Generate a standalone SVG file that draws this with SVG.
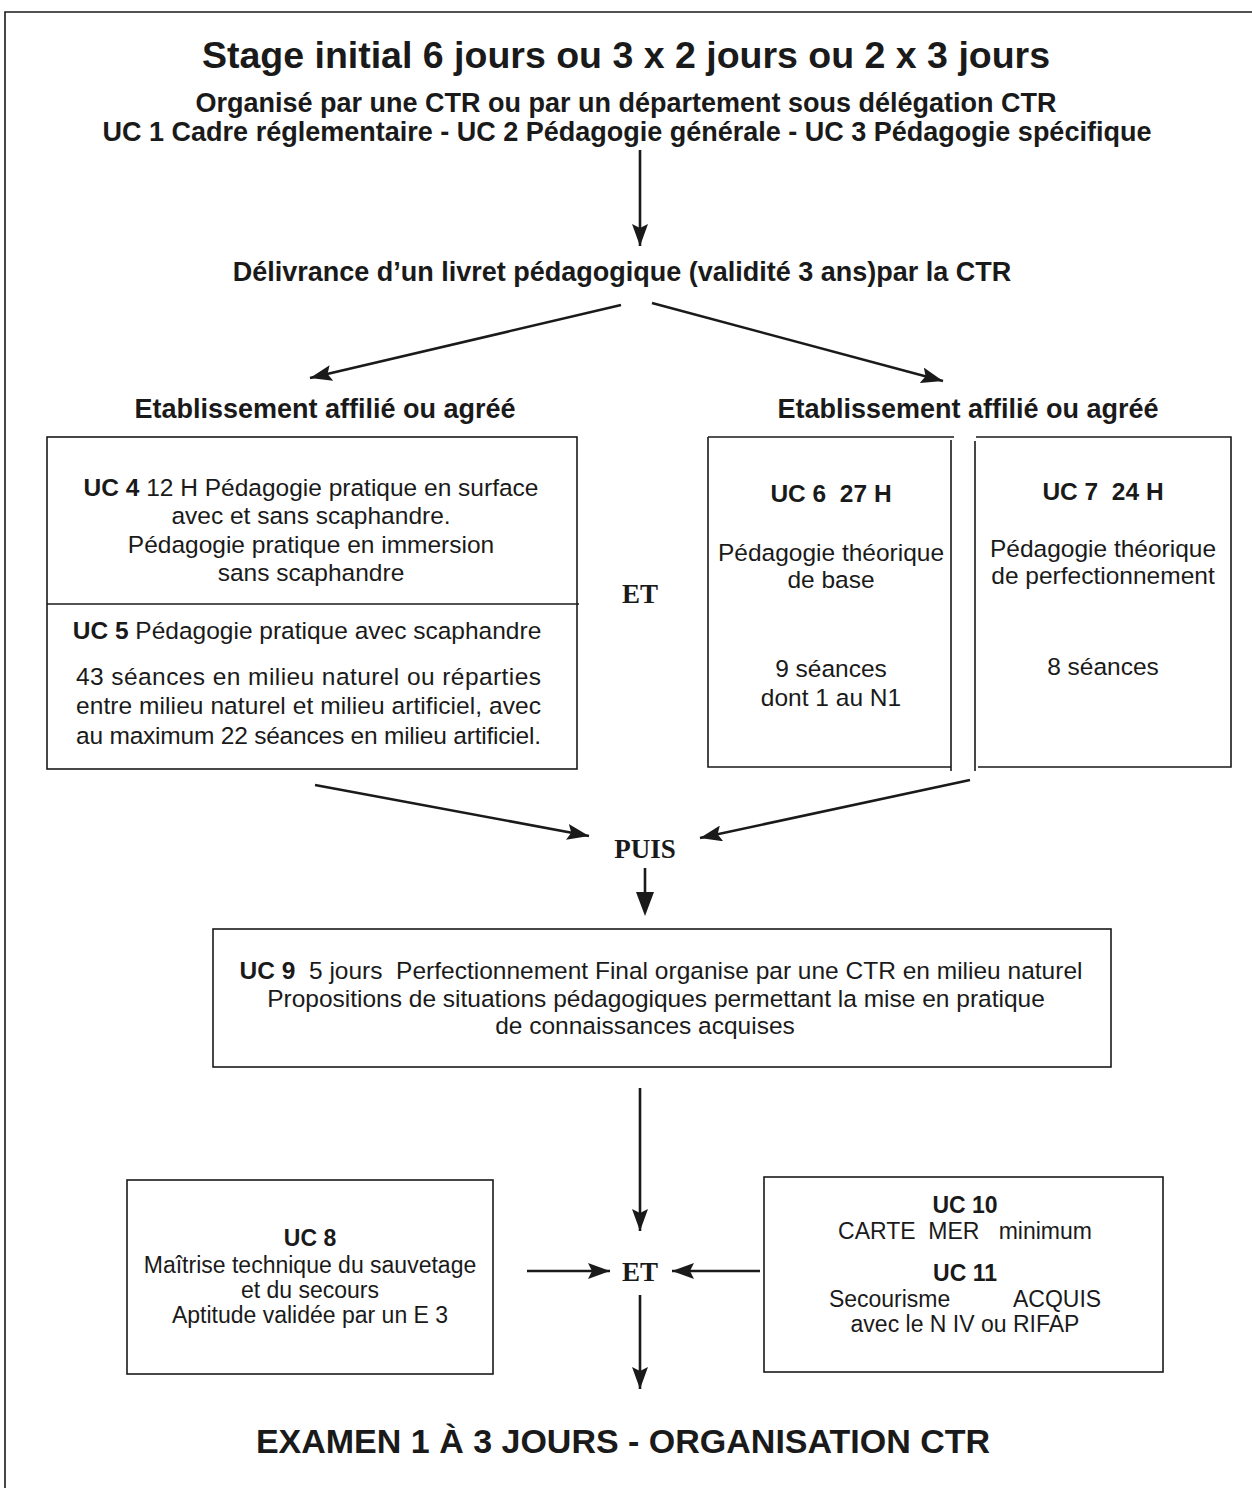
<svg xmlns="http://www.w3.org/2000/svg" width="1252" height="1488" viewBox="0 0 1252 1488">
<defs>
<style>
text{font-family:"Liberation Sans",Arial,sans-serif;fill:#1a1a1a}
.h{font-weight:bold;font-size:27px}
.t{font-weight:bold;font-size:37.5px}
.b{font-size:24.5px}
.s{font-size:23px}
.bd{font-weight:bold}
.serif{font-family:"Liberation Serif","Times New Roman",serif;font-weight:bold;font-size:27px}
.box{fill:none;stroke:#1a1a1a;stroke-width:1.6}
.con{stroke:#1a1a1a;stroke-width:2.6;fill:none}
</style>
<marker id="ah" markerUnits="userSpaceOnUse" markerWidth="24" markerHeight="16" refX="22" refY="8" orient="auto">
<path d="M0,0 L22,8 L0,16 L4,8 z" fill="#1a1a1a"/>
</marker>
</defs>
<rect width="1252" height="1488" fill="#fff"/>
<g id="page-border" fill="none" stroke="#1a1a1a" stroke-width="1.6">
<path d="M5,1488 V12 H1252"/>
</g>

<g id="header">
<text class="t" x="626" y="68" text-anchor="middle">Stage initial 6 jours ou 3 x 2 jours ou 2 x 3 jours</text>
<text class="h" x="626" y="112" text-anchor="middle">Organisé par une CTR ou par un département sous délégation CTR</text>
<text class="h" x="627" y="141" text-anchor="middle">UC 1 Cadre réglementaire - UC 2 Pédagogie générale - UC 3 Pédagogie spécifique</text>
</g>

<g id="livret">
<text class="h" x="622" y="281" text-anchor="middle">Délivrance d’un livret pédagogique (validité 3 ans)par la CTR</text>
</g>

<g id="etab-left">
<text class="h" x="325" y="418" text-anchor="middle">Etablissement affilié ou agréé</text>
</g>
<g id="etab-right">
<text class="h" x="968" y="418" text-anchor="middle">Etablissement affilié ou agréé</text>
</g>

<g id="uc4-uc5">
<rect class="box" x="47" y="437" width="530" height="332"/>
<line class="box" x1="47" y1="604" x2="579" y2="604"/>
<text class="b" x="311" y="496" text-anchor="middle"><tspan class="bd">UC 4</tspan> 12 H Pédagogie pratique en surface</text>
<text class="b" x="311" y="524" text-anchor="middle">avec et sans scaphandre.</text>
<text class="b" x="311" y="553" text-anchor="middle">Pédagogie pratique en immersion</text>
<text class="b" x="311" y="581" text-anchor="middle">sans scaphandre</text>
<text class="b" x="307" y="639" text-anchor="middle"><tspan class="bd">UC 5</tspan> Pédagogie pratique avec scaphandre</text>
<text class="b" x="76" y="685" textLength="465" lengthAdjust="spacing">43 séances en milieu naturel ou réparties</text>
<text class="b" x="76" y="714" textLength="465" lengthAdjust="spacing">entre milieu naturel et milieu artificiel, avec</text>
<text class="b" x="76" y="744" textLength="465" lengthAdjust="spacing">au maximum 22 séances en milieu artificiel.</text>
</g>

<g id="et-1">
<text class="serif" x="640" y="603" text-anchor="middle">ET</text>
</g>

<g id="uc6">
<path class="box" d="M708,437 H954 M951,440 V771 M951,767 H708 V437"/>
<text class="b bd" x="831" y="502" text-anchor="middle" xml:space="preserve">UC 6  27 H</text>
<text class="b" x="831" y="561" text-anchor="middle">Pédagogie théorique</text>
<text class="b" x="831" y="588" text-anchor="middle">de base</text>
<text class="b" x="831" y="677" text-anchor="middle">9 séances</text>
<text class="b" x="831" y="706" text-anchor="middle">dont 1 au N1</text>
</g>

<g id="uc7">
<path class="box" d="M976,437 H1231 V767 H978 M975,441 V771"/>
<text class="b bd" x="1103" y="500" text-anchor="middle" xml:space="preserve">UC 7  24 H</text>
<text class="b" x="1103" y="557" text-anchor="middle">Pédagogie théorique</text>
<text class="b" x="1103" y="584" text-anchor="middle">de perfectionnement</text>
<text class="b" x="1103" y="675" text-anchor="middle">8 séances</text>
</g>

<g id="puis">
<text class="serif" x="645" y="858" text-anchor="middle">PUIS</text>
</g>

<g id="uc9">
<rect class="box" x="213" y="929" width="898" height="138"/>
<text class="b" x="661" y="979" text-anchor="middle" xml:space="preserve"><tspan class="bd">UC 9</tspan>  5 jours  Perfectionnement Final organise par une CTR en milieu naturel</text>
<text class="b" x="656" y="1007" text-anchor="middle">Propositions de situations pédagogiques permettant la mise en pratique</text>
<text class="b" x="645" y="1034" text-anchor="middle">de connaissances acquises</text>
</g>

<g id="uc8">
<rect class="box" x="127" y="1180" width="366" height="194"/>
<text class="s bd" x="310" y="1246" text-anchor="middle">UC 8</text>
<text class="s" x="310" y="1273" text-anchor="middle">Maîtrise technique du sauvetage</text>
<text class="s" x="310" y="1298" text-anchor="middle">et du secours</text>
<text class="s" x="310" y="1323" text-anchor="middle">Aptitude validée par un E 3</text>
</g>

<g id="et-2">
<text class="serif" x="640" y="1281" text-anchor="middle">ET</text>
</g>

<g id="uc10-uc11">
<rect class="box" x="764" y="1177" width="399" height="195"/>
<text class="s bd" x="965" y="1213" text-anchor="middle">UC 10</text>
<text class="s" x="965" y="1239" text-anchor="middle" xml:space="preserve">CARTE  MER   minimum</text>
<text class="s bd" x="965" y="1281" text-anchor="middle">UC 11</text>
<text class="s" x="965" y="1307" text-anchor="middle" xml:space="preserve">Secourisme          ACQUIS</text>
<text class="s" x="965" y="1332" text-anchor="middle">avec le N IV ou RIFAP</text>
</g>

<g id="examen">
<text class="h" x="623" y="1453" text-anchor="middle" style="font-size:34px">EXAMEN 1 À 3 JOURS - ORGANISATION CTR</text>
</g>

<g id="connectors">
<line class="con" x1="640" y1="150" x2="640" y2="246" marker-end="url(#ah)"/>
<line class="con" x1="621" y1="305" x2="310" y2="378" marker-end="url(#ah)"/>
<line class="con" x1="652" y1="303" x2="943" y2="381" marker-end="url(#ah)"/>
<line class="con" x1="315" y1="785" x2="589" y2="836" marker-end="url(#ah)"/>
<line class="con" x1="970" y1="780" x2="700" y2="838" marker-end="url(#ah)"/>
<line class="con" x1="645" y1="868" x2="645" y2="894" stroke-width="4.5"/>
<path d="M636,892 L654,892 L645,916 z" fill="#1a1a1a"/>
<line class="con" x1="640" y1="1088" x2="640" y2="1231" marker-end="url(#ah)"/>
<line class="con" x1="527" y1="1271" x2="610" y2="1271" marker-end="url(#ah)"/>
<line class="con" x1="760" y1="1271" x2="672" y2="1271" marker-end="url(#ah)"/>
<line class="con" x1="640" y1="1295" x2="640" y2="1389" marker-end="url(#ah)"/>
</g>
</svg>
